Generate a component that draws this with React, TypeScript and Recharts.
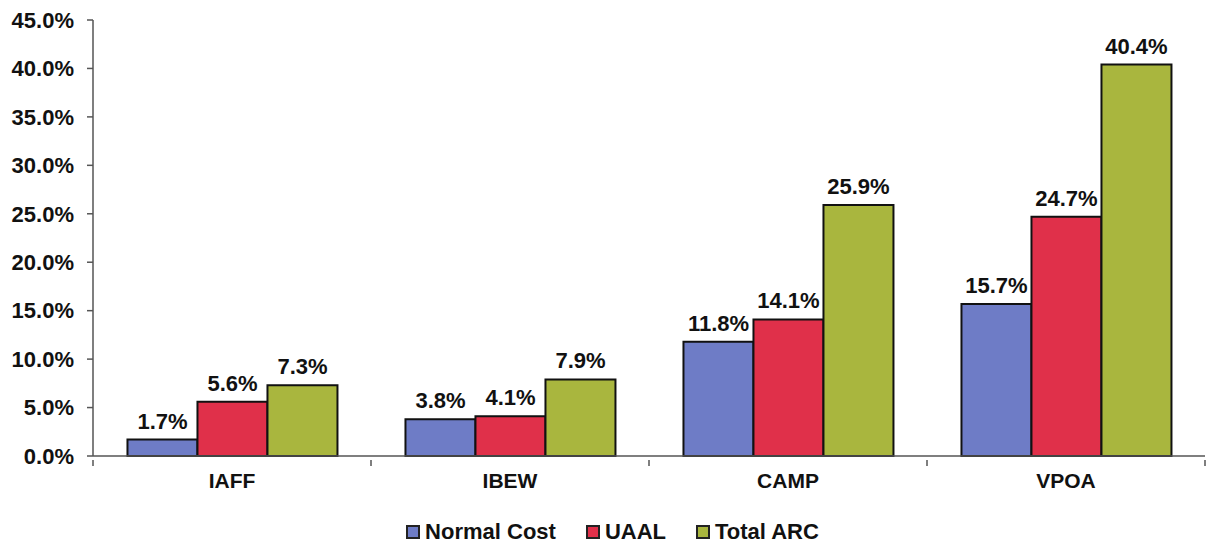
import { BarChart, Bar, XAxis, YAxis, Legend, LabelList } from "recharts";

const groups = ["IAFF", "IBEW", "CAMP", "VPOA"];
const normalCost = [1.7, 3.8, 11.8, 15.7];
const uaal = [5.6, 4.1, 14.1, 24.7];
const totalArc = [7.3, 7.9, 25.9, 40.4];
const yTicks = [0, 5, 10, 15, 20, 25, 30, 35, 40, 45];

const series = [
  { key: "normalCost", name: "Normal Cost", color: "#6e7cc6" },
  { key: "uaal", name: "UAAL", color: "#e0304a" },
  { key: "totalArc", name: "Total ARC", color: "#a9b63e" },
];

const data = groups.map((g, i) => ({
  group: g,
  normalCost: normalCost[i],
  uaal: uaal[i],
  totalArc: totalArc[i],
}));

const W = 1218;
const H = 552;
const LEFT = 93;
const RIGHT = 13;
const HALF_BAND = (W - LEFT - RIGHT) / groups.length / 2;
const FONT = "'Liberation Sans', Arial, sans-serif";

function CategoryTick(props: any) {
  const { x, y, payload, index } = props;
  const last = index === groups.length - 1;
  return (
    <g>
      <line x1={x - HALF_BAND} y1={y - 4} x2={x - HALF_BAND} y2={y + 2} stroke="#555" strokeWidth={1.5} />
      {last && <line x1={x + HALF_BAND} y1={y - 4} x2={x + HALF_BAND} y2={y + 2} stroke="#555" strokeWidth={1.5} />}
      <text x={x} y={y + 9} dy="0.71em" textAnchor="middle" fontSize={21} fontWeight="bold" fill="#111" fontFamily={FONT}>
        {payload.value}
      </text>
    </g>
  );
}

function LegendContent() {
  return (
    <div style={{ display: "flex", justifyContent: "center", gap: 30, fontFamily: FONT, fontSize: 22, fontWeight: "bold", color: "#111", paddingLeft: 20, paddingTop: 7 }}>
      {series.map((s) => (
        <div key={s.key} style={{ display: "flex", alignItems: "center" }}>
          <span style={{ display: "inline-block", width: 10, height: 10, background: s.color, border: "2px solid #222", marginRight: 5 }} />
          {s.name}
        </div>
      ))}
    </div>
  );
}

export default function App() {
  return (
    <div style={{ position: "absolute", left: 0, top: 0, background: "#fff" }}>
      <BarChart
        width={W}
        height={H}
        data={data}
        margin={{ top: 20, right: RIGHT, left: 0, bottom: 0 }}
        barCategoryGap="12.4%"
        barGap={0}
      >
        <XAxis
          dataKey="group"
          height={56}
          tickLine={false}
          axisLine={{ stroke: "#555", strokeWidth: 1.5 }}
          tick={<CategoryTick />}
          interval={0}
        />
        <YAxis
          width={LEFT}
          domain={[0, 45]}
          ticks={yTicks}
          interval={0}
          tickFormatter={(v: number) => `${v.toFixed(1)}%`}
          axisLine={{ stroke: "#555", strokeWidth: 1.5 }}
          tickLine={{ stroke: "#555", strokeWidth: 1.5 }}
          tickSize={6}
          tickMargin={13}
          tick={{ fontSize: 22, fontWeight: "bold", fill: "#111", fontFamily: FONT }}
        />
        <Legend verticalAlign="bottom" height={40} content={<LegendContent />} />
        {series.map((s) => (
          <Bar key={s.key} dataKey={s.key} name={s.name} fill={s.color} stroke="#111" strokeWidth={2} isAnimationActive={false}>
            <LabelList
              dataKey={s.key}
              position="top"
              offset={11}
              formatter={(v: any) => `${Number(v).toFixed(1)}%`}
              style={{ fontSize: 22, fontWeight: "bold", fill: "#111", fontFamily: FONT }}
            />
          </Bar>
        ))}
      </BarChart>
    </div>
  );
}
